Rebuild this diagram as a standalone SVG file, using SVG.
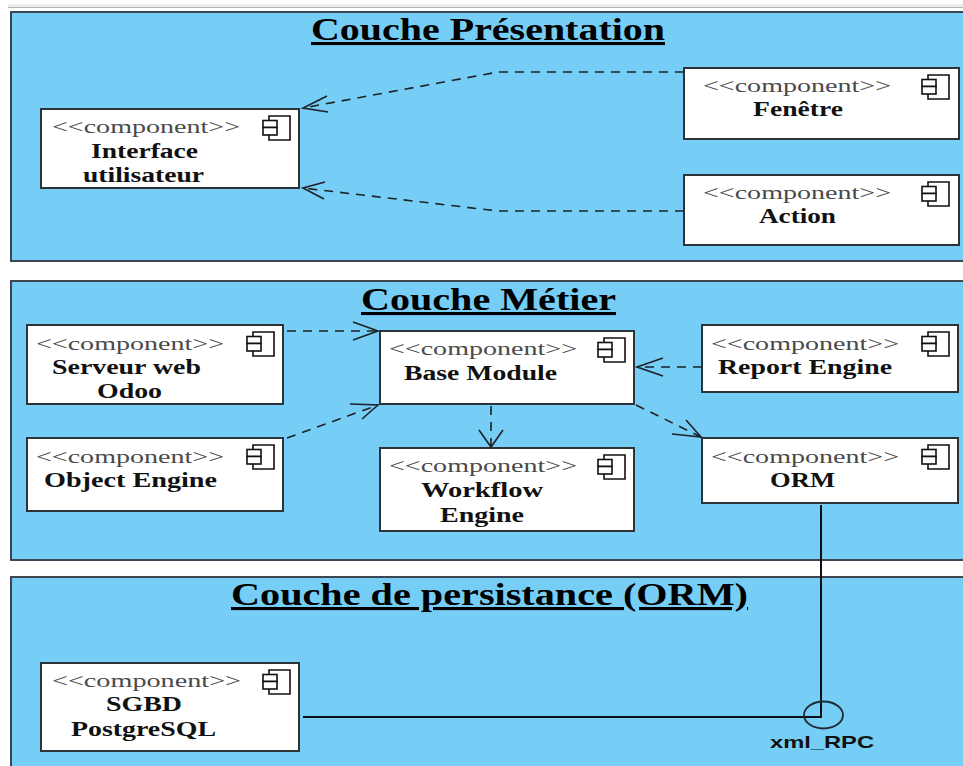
<svg xmlns="http://www.w3.org/2000/svg" width="963" height="766" viewBox="0 0 963 766">
<style>
text{font-family:"Liberation Serif","Times New Roman",serif;fill:#111}
.panel{fill:#76cdf5;stroke:#3c4650;stroke-width:2}
.box{fill:#fff;stroke:#2c343a;stroke-width:2}
.st{font-size:19px;fill:#4a4a4a}
.nm{font-size:20px;font-weight:bold}
.ti{font-size:31px;font-weight:bold;text-decoration:underline;fill:#000}
.ic{fill:#fff;stroke:#111;stroke-width:1.6}
.dash{fill:none;stroke:#1c2226;stroke-width:1.6;stroke-dasharray:9 7}
.head{fill:none;stroke:#1c2226;stroke-width:1.6}
.solid{fill:none;stroke:#0c1014;stroke-width:2}
</style>
<defs>
<g id="ico">
<path class="ic" d="M6 0H27V24H6Z"/>
<rect class="ic" x="0" y="4.500" width="14" height="7"/>
<rect class="ic" x="0" y="11.500" width="14" height="7.500"/>
</g>
</defs>
<rect x="8" y="4" width="955" height="3" fill="#ececec"/>
<rect x="8" y="7" width="955" height="1" fill="#b4b6b8"/>
<g id="panel-presentation">
<rect class="panel" x="11" y="12" width="960" height="249"/>
<text class="ti" x="311" y="40" textLength="354" lengthAdjust="spacingAndGlyphs">Couche Présentation</text>
</g>
<g id="panel-metier">
<rect class="panel" x="11" y="281" width="960" height="279"/>
<text class="ti" x="361" y="310" textLength="255" lengthAdjust="spacingAndGlyphs">Couche Métier</text>
</g>
<g id="panel-persistance">
<rect class="panel" x="11" y="577" width="960" height="200"/>
<text class="ti" x="231" y="605" textLength="517" lengthAdjust="spacingAndGlyphs">Couche de persistance (ORM)</text>
</g>
<g id="node-interface">
<rect class="box" x="41" y="109" width="258" height="79"/>
<text class="st" x="52" y="133" textLength="188" lengthAdjust="spacingAndGlyphs">&lt;&lt;component&gt;&gt;</text>
<use href="#ico" x="263" y="116"/>
<text class="nm" x="91" y="158" textLength="107" lengthAdjust="spacingAndGlyphs">Interface</text>
<text class="nm" x="83" y="182" textLength="121" lengthAdjust="spacingAndGlyphs">utilisateur</text>
</g>
<g id="node-fenetre">
<rect class="box" x="684" y="68" width="275" height="71"/>
<text class="st" x="703" y="92" textLength="188" lengthAdjust="spacingAndGlyphs">&lt;&lt;component&gt;&gt;</text>
<use href="#ico" x="922" y="75"/>
<text class="nm" x="753" y="116" textLength="90" lengthAdjust="spacingAndGlyphs">Fenêtre</text>
</g>
<g id="node-action">
<rect class="box" x="684" y="175" width="275" height="70"/>
<text class="st" x="703" y="199" textLength="188" lengthAdjust="spacingAndGlyphs">&lt;&lt;component&gt;&gt;</text>
<use href="#ico" x="922" y="182"/>
<text class="nm" x="759" y="223" textLength="77" lengthAdjust="spacingAndGlyphs">Action</text>
</g>
<g id="node-serveur">
<rect class="box" x="27" y="325" width="256" height="79"/>
<text class="st" x="36" y="350" textLength="188" lengthAdjust="spacingAndGlyphs">&lt;&lt;component&gt;&gt;</text>
<use href="#ico" x="247" y="332"/>
<text class="nm" x="52" y="374" textLength="149" lengthAdjust="spacingAndGlyphs">Serveur web</text>
<text class="nm" x="97" y="398" textLength="65" lengthAdjust="spacingAndGlyphs">Odoo</text>
</g>
<g id="node-object">
<rect class="box" x="27" y="438" width="256" height="73"/>
<text class="st" x="36" y="463" textLength="188" lengthAdjust="spacingAndGlyphs">&lt;&lt;component&gt;&gt;</text>
<use href="#ico" x="247" y="445"/>
<text class="nm" x="44" y="487" textLength="173" lengthAdjust="spacingAndGlyphs">Object Engine</text>
</g>
<g id="node-base">
<rect class="box" x="380" y="331" width="254" height="73"/>
<text class="st" x="389" y="355" textLength="188" lengthAdjust="spacingAndGlyphs">&lt;&lt;component&gt;&gt;</text>
<use href="#ico" x="598" y="338"/>
<text class="nm" x="404" y="380" textLength="153" lengthAdjust="spacingAndGlyphs">Base Module</text>
</g>
<g id="node-workflow">
<rect class="box" x="380" y="448" width="254" height="83"/>
<text class="st" x="389" y="472" textLength="188" lengthAdjust="spacingAndGlyphs">&lt;&lt;component&gt;&gt;</text>
<use href="#ico" x="598" y="455"/>
<text class="nm" x="421" y="497" textLength="122" lengthAdjust="spacingAndGlyphs">Workflow</text>
<text class="nm" x="440" y="522" textLength="84" lengthAdjust="spacingAndGlyphs">Engine</text>
</g>
<g id="node-report">
<rect class="box" x="702" y="325" width="256" height="67"/>
<text class="st" x="711" y="350" textLength="188" lengthAdjust="spacingAndGlyphs">&lt;&lt;component&gt;&gt;</text>
<use href="#ico" x="922" y="332"/>
<text class="nm" x="718" y="374" textLength="174" lengthAdjust="spacingAndGlyphs">Report Engine</text>
</g>
<g id="node-orm">
<rect class="box" x="702" y="438" width="256" height="65"/>
<text class="st" x="711" y="463" textLength="188" lengthAdjust="spacingAndGlyphs">&lt;&lt;component&gt;&gt;</text>
<use href="#ico" x="922" y="445"/>
<text class="nm" x="770" y="487" textLength="65" lengthAdjust="spacingAndGlyphs">ORM</text>
</g>
<g id="node-sgbd">
<rect class="box" x="41" y="663" width="258" height="88"/>
<text class="st" x="52" y="687" textLength="189" lengthAdjust="spacingAndGlyphs">&lt;&lt;component&gt;&gt;</text>
<use href="#ico" x="263" y="670"/>
<text class="nm" x="106" y="711" textLength="76" lengthAdjust="spacingAndGlyphs">SGBD</text>
<text class="nm" x="71" y="736" textLength="145" lengthAdjust="spacingAndGlyphs">PostgreSQL</text>
</g>
<g id="connectors">
<path class="dash" d="M684 72H498L303 108"/>
<path class="head" d="M327 96L303 108L328 112"/>
<path class="dash" d="M684 211H498L303 188"/>
<path class="head" d="M325 182L303 188L324 199"/>
<path class="dash" d="M287 331H378"/>
<path class="head" d="M353 322L378 331L353 340"/>
<path class="dash" d="M287 438L378 405"/>
<path class="head" d="M350 404L378 405L362 419"/>
<path class="dash" d="M491 406V447"/>
<path class="head" d="M479 430L491 447L503 430"/>
<path class="dash" d="M702 367H637"/>
<path class="head" d="M663 358L637 367L663 376"/>
<path class="dash" d="M636 405L701 437"/>
<path class="head" d="M686 420L701 437L672 434"/>
<path class="solid" d="M821 505V717H303"/>
<ellipse cx="823.500" cy="715" rx="19.500" ry="13.500" fill="none" stroke="#1c2a34" stroke-width="1.800"/>
<text x="770" y="748" textLength="104" lengthAdjust="spacingAndGlyphs" style="font-family:'Liberation Sans',Arial,sans-serif;font-size:17px;font-weight:bold">xml_RPC</text>
</g>
</svg>
